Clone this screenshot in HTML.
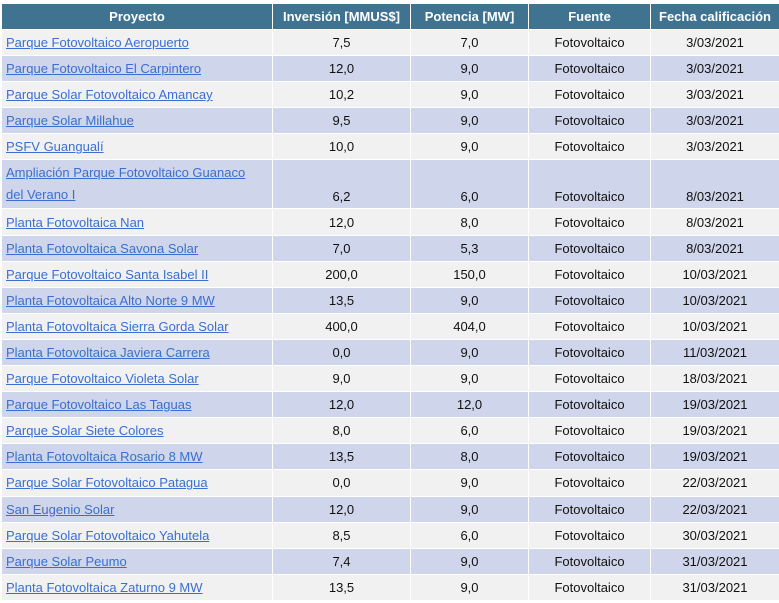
<!DOCTYPE html>
<html><head><meta charset="utf-8"><style>
body{margin:0;background:#fff;width:779px;height:603px;overflow:hidden}
table{position:absolute;left:1px;top:3px;border-collapse:collapse;table-layout:fixed;width:778px;font-family:"Liberation Sans",sans-serif;font-size:13px;color:#111}
td,th{border:1px solid #fff;padding:0 4px;height:25.1px;white-space:nowrap;overflow:hidden}
th{background:#3f7390;color:#fff;font-weight:bold;height:25px}
tbody tr:nth-child(odd) td{background:#f1f1f1}
tbody tr:nth-child(even) td{background:#cfd5ea}
td{text-align:center}
td:first-child{text-align:left}
a{color:#3a6fd0;text-decoration:underline}
tr.tall td{height:44px;vertical-align:bottom;padding-bottom:4px}
tr.tall td:first-child{line-height:22px;padding-bottom:2px}
</style></head><body>
<table>
<colgroup><col style="width:271px"><col style="width:138px"><col style="width:118px"><col style="width:122px"><col style="width:129px"></colgroup>
<thead><tr><th>Proyecto</th><th>Inversión [MMUS$]</th><th>Potencia [MW]</th><th>Fuente</th><th>Fecha calificación</th></tr></thead>
<tbody>
<tr><td><a>Parque Fotovoltaico Aeropuerto</a></td><td>7,5</td><td>7,0</td><td>Fotovoltaico</td><td>3/03/2021</td></tr>
<tr><td><a>Parque Fotovoltaico El Carpintero</a></td><td>12,0</td><td>9,0</td><td>Fotovoltaico</td><td>3/03/2021</td></tr>
<tr><td><a>Parque Solar Fotovoltaico Amancay</a></td><td>10,2</td><td>9,0</td><td>Fotovoltaico</td><td>3/03/2021</td></tr>
<tr><td><a>Parque Solar Millahue</a></td><td>9,5</td><td>9,0</td><td>Fotovoltaico</td><td>3/03/2021</td></tr>
<tr><td><a>PSFV Guangualí</a></td><td>10,0</td><td>9,0</td><td>Fotovoltaico</td><td>3/03/2021</td></tr>
<tr class="tall"><td><a>Ampliación Parque Fotovoltaico Guanaco<br>del Verano I</a></td><td>6,2</td><td>6,0</td><td>Fotovoltaico</td><td>8/03/2021</td></tr>
<tr><td><a>Planta Fotovoltaica Nan</a></td><td>12,0</td><td>8,0</td><td>Fotovoltaico</td><td>8/03/2021</td></tr>
<tr><td><a>Planta Fotovoltaica Savona Solar</a></td><td>7,0</td><td>5,3</td><td>Fotovoltaico</td><td>8/03/2021</td></tr>
<tr><td><a>Parque Fotovoltaico Santa Isabel II</a></td><td>200,0</td><td>150,0</td><td>Fotovoltaico</td><td>10/03/2021</td></tr>
<tr><td><a>Planta Fotovoltaica Alto Norte 9 MW</a></td><td>13,5</td><td>9,0</td><td>Fotovoltaico</td><td>10/03/2021</td></tr>
<tr><td><a>Planta Fotovoltaica Sierra Gorda Solar</a></td><td>400,0</td><td>404,0</td><td>Fotovoltaico</td><td>10/03/2021</td></tr>
<tr><td><a>Planta Fotovoltaica Javiera Carrera</a></td><td>0,0</td><td>9,0</td><td>Fotovoltaico</td><td>11/03/2021</td></tr>
<tr><td><a>Parque Fotovoltaico Violeta Solar</a></td><td>9,0</td><td>9,0</td><td>Fotovoltaico</td><td>18/03/2021</td></tr>
<tr><td><a>Parque Fotovoltaico Las Taguas</a></td><td>12,0</td><td>12,0</td><td>Fotovoltaico</td><td>19/03/2021</td></tr>
<tr><td><a>Parque Solar Siete Colores</a></td><td>8,0</td><td>6,0</td><td>Fotovoltaico</td><td>19/03/2021</td></tr>
<tr><td><a>Planta Fotovoltaica Rosario 8 MW</a></td><td>13,5</td><td>8,0</td><td>Fotovoltaico</td><td>19/03/2021</td></tr>
<tr><td><a>Parque Solar Fotovoltaico Patagua</a></td><td>0,0</td><td>9,0</td><td>Fotovoltaico</td><td>22/03/2021</td></tr>
<tr><td><a>San Eugenio Solar</a></td><td>12,0</td><td>9,0</td><td>Fotovoltaico</td><td>22/03/2021</td></tr>
<tr><td><a>Parque Solar Fotovoltaico Yahutela</a></td><td>8,5</td><td>6,0</td><td>Fotovoltaico</td><td>30/03/2021</td></tr>
<tr><td><a>Parque Solar Peumo</a></td><td>7,4</td><td>9,0</td><td>Fotovoltaico</td><td>31/03/2021</td></tr>
<tr><td><a>Planta Fotovoltaica Zaturno 9 MW</a></td><td>13,5</td><td>9,0</td><td>Fotovoltaico</td><td>31/03/2021</td></tr>
</tbody></table>
</body></html>
